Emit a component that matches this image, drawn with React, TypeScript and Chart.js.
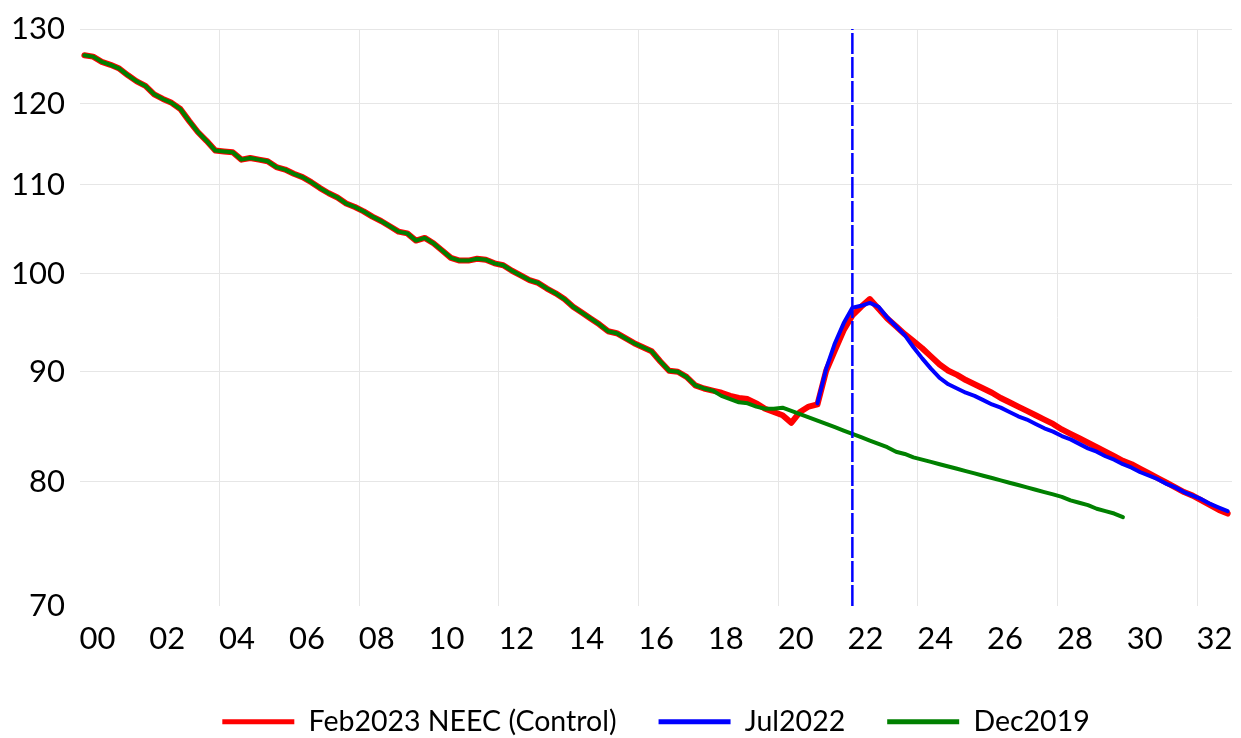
import React, { useEffect, useRef } from 'react';
import { Chart, registerables } from 'chart.js';

Chart.register(...registerables);

const FONT = 'Lato, "Open Sans", sans-serif';

// Quarterly data, first quarter = 2000Q1
const firstYear = 2000;

const seriesNames = ['Feb2023 NEEC (Control)', 'Jul2022', 'Dec2019'];
const seriesColors = ['#ff0000', '#0000ff', '#008000'];

// 2000Q1 .. 2032Q4
const feb2023Control = [
  126.4, 126.2, 125.5, 125.1, 124.6, 123.7, 122.9, 122.3, 121.2, 120.6,
  120.1, 119.3, 117.8, 116.4, 115.3, 114.1, 114.0, 113.9, 113.0, 113.2,
  113.0, 112.8, 112.1, 111.8, 111.3, 110.9, 110.3, 109.6, 109.0, 108.5,
  107.8, 107.4, 106.9, 106.3, 105.8, 105.2, 104.6, 104.4, 103.6, 103.9,
  103.3, 102.5, 101.7, 101.4, 101.4, 101.6, 101.5, 101.1, 100.9, 100.3,
  99.8, 99.3, 99.0, 98.4, 97.9, 97.3, 96.5, 95.9, 95.3, 94.7,
  94.0, 93.8, 93.3, 92.8, 92.4, 92.0, 91.0, 90.1, 90.0, 89.5,
  88.7, 88.4, 88.2, 88.0, 87.7, 87.5, 87.4, 87.0, 86.5, 86.2,
  85.9, 85.2, 86.2, 86.7, 86.9, 90.1, 92.1, 94.1, 95.6, 96.5,
  97.3, 96.3, 95.3, 94.5, 93.7, 93.0, 92.3, 91.5, 90.7, 90.1,
  89.7, 89.2, 88.8, 88.4, 88.0, 87.5, 87.1, 86.7, 86.3, 85.9,
  85.5, 85.1, 84.6, 84.2, 83.8, 83.4, 83.0, 82.6, 82.2, 81.8,
  81.5, 81.1, 80.7, 80.3, 79.9, 79.5, 79.1, 78.8, 78.4, 78.0,
  77.6, 77.3,
];

// 2021Q1 .. 2032Q4
const jul2022StartQuarter = 84;
const jul2022 = [
  87.0, 90.3, 92.8, 94.8, 96.4, 96.6, 96.9, 96.5, 95.4, 94.5,
  93.6, 92.4, 91.3, 90.3, 89.4, 88.8, 88.4, 88.0, 87.7, 87.3,
  86.9, 86.6, 86.2, 85.8, 85.5, 85.1, 84.7, 84.4, 84.0, 83.7,
  83.3, 82.9, 82.6, 82.2, 81.9, 81.5, 81.2, 80.8, 80.5, 80.2,
  79.8, 79.5, 79.1, 78.8, 78.5, 78.1, 77.8, 77.5,
];

// 2000Q1 .. 2029Q4
const dec2019 = [
  126.4, 126.2, 125.5, 125.1, 124.6, 123.7, 122.9, 122.3, 121.2, 120.6,
  120.1, 119.3, 117.8, 116.4, 115.3, 114.1, 114.0, 113.9, 113.0, 113.2,
  113.0, 112.8, 112.1, 111.8, 111.3, 110.9, 110.3, 109.6, 109.0, 108.5,
  107.8, 107.4, 106.9, 106.3, 105.8, 105.2, 104.6, 104.4, 103.6, 103.9,
  103.3, 102.5, 101.7, 101.4, 101.4, 101.6, 101.5, 101.1, 100.9, 100.3,
  99.8, 99.3, 99.0, 98.4, 97.9, 97.3, 96.5, 95.9, 95.3, 94.7,
  94.0, 93.8, 93.3, 92.8, 92.4, 92.0, 91.0, 90.1, 90.0, 89.5,
  88.7, 88.4, 88.2, 87.7, 87.4, 87.1, 87.0, 86.7, 86.5, 86.5,
  86.6, 86.3, 86.0, 85.7, 85.4, 85.1, 84.8, 84.5, 84.2, 83.9,
  83.6, 83.3, 83.0, 82.6, 82.4, 82.1, 81.9, 81.7, 81.5, 81.3,
  81.1, 80.9, 80.7, 80.5, 80.3, 80.1, 79.9, 79.7, 79.5, 79.3,
  79.1, 78.9, 78.7, 78.4, 78.2, 78.0, 77.7, 77.5, 77.3, 77.0,
];

const yTickValues = [70, 80, 90, 100, 110, 120, 130];
const xTickYears = [2000, 2002, 2004, 2006, 2008, 2010, 2012, 2014, 2016, 2018, 2020, 2022, 2024, 2026, 2028, 2030, 2032];
const xGridYears = [2004, 2008, 2012, 2016, 2020, 2024, 2028, 2032];
const xMin = 2000;
const xMax = 2033;
const markerDate = 2022.125; // vertical dashed line

const quarterX = (q: number) => firstYear + (q + 0.5) / 4;
const toPoints = (vals: number[], startQ: number) =>
  vals.map((v, i) => ({ x: quarterX(startQ + i), y: v }));

export default function App() {
  const ref = useRef<HTMLCanvasElement | null>(null);

  useEffect(() => {
    if (!ref.current) return;
    const line = (i: number, data: any[], width: number, order: number) => ({
      label: seriesNames[i],
      data,
      borderColor: seriesColors[i],
      backgroundColor: seriesColors[i],
      borderWidth: width,
      pointRadius: 0,
      pointHoverRadius: 0,
      tension: 0,
      borderJoinStyle: 'round',
      borderCapStyle: 'round',
      order,
    });
    const chart = new Chart(ref.current, {
      type: 'line',
      data: {
        datasets: [
          line(0, toPoints(feb2023Control, 0), 6, 3),
          line(1, toPoints(jul2022, jul2022StartQuarter), 4, 2),
          line(2, toPoints(dec2019, 0), 4, 1),
          {
            label: 'marker',
            data: [
              { x: markerDate, y: yTickValues[0] },
              { x: markerDate, y: yTickValues[yTickValues.length - 1] },
            ],
            borderColor: '#0000ff',
            backgroundColor: '#0000ff',
            borderWidth: 2.5,
            borderDash: [21, 3],
            pointRadius: 0,
            pointHoverRadius: 0,
            order: 0,
          },
        ],
      },
      options: {
        animation: false,
        responsive: true,
        maintainAspectRatio: false,
        layout: { autoPadding: false, padding: { top: 29, left: 11, right: 9, bottom: 0 } },
        plugins: {
          tooltip: { enabled: false },
          legend: {
            position: 'bottom',
            fullSize: false,
            labels: {
              color: '#000',
              font: { family: FONT, size: 28.5 },
              boxWidth: 72,
              boxHeight: 5,
              padding: 42,
              generateLabels: (c: any) =>
                (Chart.defaults.plugins.legend.labels.generateLabels as any)(c)
                  .filter((l: any) => l.datasetIndex < 3)
                  .sort((a: any, b: any) => a.datasetIndex - b.datasetIndex)
                  .map((l: any) => ({
                    ...l,
                    fillStyle: seriesColors[l.datasetIndex],
                    strokeStyle: seriesColors[l.datasetIndex],
                    lineWidth: 0,
                    lineDash: [],
                  })),
            },
          },
        },
        scales: {
          x: {
            type: 'linear',
            min: xMin,
            max: xMax,
            weight: 0,
            grid: { display: false, drawTicks: false },
            border: { display: false },
            afterBuildTicks: (axis: any) => {
              axis.ticks = xTickYears.map((y) => ({ value: y + 0.5 }));
            },
            afterFit: (axis: any) => {
              axis.height = 59.5;
              axis.paddingLeft = 0;
              axis.paddingRight = 0;
            },
            ticks: {
              autoSkip: false,
              maxRotation: 0,
              padding: 14,
              color: '#000',
              font: { family: FONT, size: 31 },
              callback: (v: any) => String(Math.floor(Number(v)) % 100).padStart(2, '0'),
            },
          },
          xg: {
            type: 'linear',
            position: 'bottom',
            min: xMin,
            max: xMax,
            weight: 1,
            border: { display: false },
            afterBuildTicks: (axis: any) => {
              axis.ticks = xGridYears.map((y) => ({ value: y }));
            },
            afterFit: (axis: any) => {
              axis.height = 0;
            },
            grid: {
              color: '#e6e6e6',
              lineWidth: 1,
              drawTicks: false,
            },
            ticks: { display: false },
          },
          y: {
            type: 'logarithmic',
            min: 70,
            max: 130,
            border: { display: false },
            afterBuildTicks: (axis: any) => {
              axis.ticks = yTickValues.map((v) => ({ value: v }));
            },
            afterFit: (axis: any) => {
              axis.width = 69;
              axis.paddingTop = 0;
              axis.paddingBottom = 0;
            },
            grid: {
              drawTicks: false,
              lineWidth: 1,
              color: (ctx: any) => (ctx.tick && ctx.tick.value === 70 ? 'rgba(0,0,0,0)' : '#e6e6e6'),
            },
            ticks: {
              padding: 15,
              color: '#000',
              font: { family: FONT, size: 31 },
              callback: (v: any) => String(v),
            },
          },
        },
      },
    } as any);
    return () => chart.destroy();
  }, []);

  return (
    <div style={{ position: 'fixed', left: 0, top: 0, width: 1241, height: 746, background: '#fff' }}>
      <canvas ref={ref} />
    </div>
  );
}
